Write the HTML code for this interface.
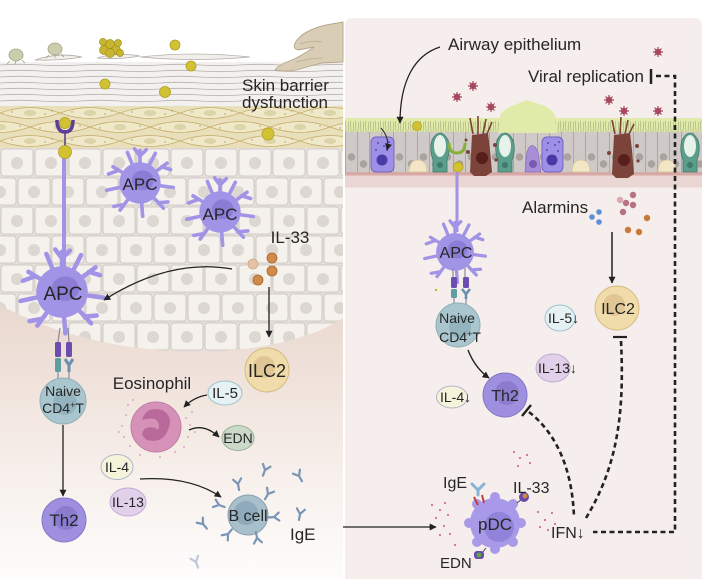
<!DOCTYPE html>
<html><head><meta charset="utf-8"><style>
html,body{margin:0;padding:0;background:#fff;}
svg{display:block;}
text{font-family:"Liberation Sans",Arial,sans-serif;fill:#262626;}
</style></head><body>
<svg width="706" height="579" viewBox="0 0 706 579" xmlns="http://www.w3.org/2000/svg">
<defs>
 <linearGradient id="derm" gradientUnits="userSpaceOnUse" x1="0" y1="290" x2="0" y2="579">
  <stop offset="0" stop-color="#e8d6cc"/>
  <stop offset="0.45" stop-color="#f3e8e2"/>
  <stop offset="1" stop-color="#fefdfc"/>
 </linearGradient>
 <pattern id="cells" x="0" y="148" width="34" height="58" patternUnits="userSpaceOnUse">
  <rect width="34" height="58" fill="#e6e0db"/>
  <rect x="1" y="1" width="32" height="27" rx="3" fill="#f5f1ed" stroke="#c9c2bd" stroke-width="0.8"/>
  <circle cx="17" cy="15" r="6" fill="#ddd7d2"/>
  <rect x="-16" y="30" width="32" height="27" rx="3" fill="#f5f1ed" stroke="#c9c2bd" stroke-width="0.8"/>
  <rect x="18" y="30" width="32" height="27" rx="3" fill="#f5f1ed" stroke="#c9c2bd" stroke-width="0.8"/>
  <circle cx="0" cy="44" r="6" fill="#ddd7d2"/>
  <circle cx="34" cy="44" r="6" fill="#ddd7d2"/>
 </pattern>
 <pattern id="gran" x="0" y="106" width="60" height="28" patternUnits="userSpaceOnUse">
  <rect width="60" height="28" fill="#e9e0bb"/>
  <path d="M0,7 Q30,-4 60,7 Q30,18 0,7Z" fill="#efe8c9" stroke="#c5ac68" stroke-width="0.8"/>
  <path d="M-30,21 Q0,10 30,21 Q0,32 -30,21Z M30,21 Q60,10 90,21 Q60,32 30,21Z" fill="#efe8c9" stroke="#c5ac68" stroke-width="0.8"/>
  <ellipse cx="30" cy="7" rx="6" ry="3" fill="#ddd3a8"/>
  <ellipse cx="0" cy="21" rx="6" ry="3" fill="#ddd3a8"/>
  <ellipse cx="60" cy="21" rx="6" ry="3" fill="#ddd3a8"/>
  <g fill="#a89a60"><circle cx="12" cy="6" r="0.7"/><circle cx="45" cy="8" r="0.7"/><circle cx="20" cy="20" r="0.7"/><circle cx="40" cy="22" r="0.7"/><circle cx="52" cy="5" r="0.7"/></g>
 </pattern>
 <pattern id="corn" x="0" y="62" width="80" height="6" patternUnits="userSpaceOnUse">
  <rect width="80" height="6" fill="#f3f1ef"/>
  <path d="M0,3 Q20,1.6 40,3 T80,3" fill="none" stroke="#b8b1ab" stroke-width="0.8"/>
 </pattern>
 <pattern id="epi" x="345" y="132" width="24" height="40" patternUnits="userSpaceOnUse">
  <rect width="24" height="40" fill="#cfcac7"/>
  <path d="M0.5,0 V40 M12.5,0 V40" stroke="#a9a3a0" stroke-width="0.9"/>
  <circle cx="6.5" cy="25" r="3.8" fill="#a9a29f"/>
  <circle cx="18.5" cy="32" r="3.8" fill="#a9a29f"/>
 </pattern>
 <pattern id="cil" x="345" y="119" width="5" height="13" patternUnits="userSpaceOnUse">
  <path d="M1,13 L0.5,2 M3,13 L3.8,3" stroke="#a3a97c" stroke-width="0.6"/>
 </pattern>
 <marker id="ah" viewBox="0 0 10 10" refX="9" refY="5" markerWidth="7" markerHeight="7" orient="auto" markerUnits="userSpaceOnUse">
  <path d="M0,0 L10,5 L0,10 Z" fill="#222"/>
 </marker>
 <g id="apc">
  <g stroke="#a193e6" stroke-width="4" stroke-linecap="round" fill="none">
   <path d="M0,0 L0,-36 M0,-30 L-6,-38 M0,-30 L7,-37"/>
   <path d="M0,0 L30,-22 M24,-18 L34,-15"/>
   <path d="M0,0 L37,5"/>
   <path d="M0,0 L26,28 M20,22 L31,21"/>
   <path d="M0,0 L3,37"/>
   <path d="M0,0 L-22,30 M-18,24 L-29,26"/>
   <path d="M0,0 L-37,8"/>
   <path d="M0,0 L-30,-18 M-24,-14 L-35,-10"/>
   <path d="M0,0 L-14,-34"/>
   <path d="M0,0 L17,-33"/>
  </g>
  <circle r="23" fill="#a193e6"/>
  <ellipse cx="3" cy="-3" rx="12" ry="11" fill="#8c7cd6"/>
 </g>
 <path id="ab" d="M0,6 L0,0 M0,0 L-4,-5 M0,0 L4,-5" stroke="#7a95b5" stroke-width="2.2" stroke-linecap="round" fill="none"/>
 <g id="vir">
  <path d="M0,-5 V5 M-5,0 H5 M-3.5,-3.5 L3.5,3.5 M-3.5,3.5 L3.5,-3.5" stroke="#a8485f" stroke-width="1.2"/>
  <circle r="3.2" fill="#a8485f"/>
 </g>
</defs>

<!-- ===== LEFT PANEL (skin) ===== -->
<rect x="0" y="140" width="343" height="439" fill="url(#derm)"/>
<path d="M0,148 H343 V318 C280,360 120,370 0,305 Z" fill="url(#cells)"/>
<rect x="0" y="106" width="343" height="42" fill="url(#gran)"/>
<rect x="0" y="62" width="343" height="44" fill="url(#corn)"/>
<g fill="#f1efec" stroke="#b3aca6" stroke-width="0.8">
 <path d="M35,60 Q58,52 82,57 Q58,61 35,60Z"/>
 <path d="M97,58 Q118,52 140,56 Q118,60 97,58Z"/>
 <path d="M140,57 Q195,51 250,57 Q195,62 140,57Z"/>
</g>
<g fill="#cbcdac" stroke="#9fa27e" stroke-width="0.8">
 <ellipse cx="16" cy="55" rx="7" ry="6"/>
 <ellipse cx="55" cy="49" rx="7" ry="6"/>
 <path d="M10,61 L7,64 M16,61 L15,64 M22,60 L25,63 M49,55 L46,58 M55,55 L55,58 M61,54 L64,57" fill="none"/>
</g>
<g fill="#c9b630" stroke="#a2901c" stroke-width="0.7">
 <circle cx="104" cy="50" r="4.5"/><circle cx="110" cy="44" r="4.5"/><circle cx="116" cy="50" r="4.5"/>
 <circle cx="110" cy="53" r="4.5"/><circle cx="103" cy="42" r="3.5"/><circle cx="118" cy="43" r="3.5"/><circle cx="120" cy="53" r="3.5"/>
</g>
<g fill="#d2c232" stroke="#ae9e22" stroke-width="0.8">
 <circle cx="175" cy="45" r="5"/><circle cx="191" cy="66" r="5"/><circle cx="105" cy="84" r="5"/>
 <circle cx="165" cy="92" r="5.5"/><circle cx="268" cy="134" r="6"/>
</g>
<path d="M343,22 L326,25 Q305,30 297,40 Q291,48 298,50 L314,47 Q303,55 292,60 Q278,65 275,70 Q289,73 303,68 L322,63 L343,62 Z" fill="#d9cdb5" stroke="#b5a68a" stroke-width="0.9"/>
<path d="M300,44 Q312,40 322,42 M296,62 Q310,58 323,58" stroke="#bcae92" stroke-width="0.8" fill="none"/>
<text x="242" y="91" font-size="17">Skin barrier</text>
<text x="242" y="108" font-size="17">dysfunction</text>

<line x1="64" y1="150" x2="64" y2="268" stroke="#a193e6" stroke-width="4"/>
<line x1="65" y1="130" x2="65" y2="148" stroke="#4e3a80" stroke-width="1.5"/>
<path d="M57,120 Q57,132 65,132 Q73,132 73,120" fill="none" stroke="#5d3e98" stroke-width="3.5"/>
<circle cx="65" cy="123" r="5.5" fill="#d2c232" stroke="#ae9e22" stroke-width="0.8"/>
<circle cx="65" cy="152" r="6.5" fill="#d2c232" stroke="#ae9e22" stroke-width="0.8"/>

<use href="#apc" transform="translate(140,183) scale(0.9)"/>
<use href="#apc" transform="translate(220,212) scale(0.9)"/>
<use href="#apc" transform="translate(62,292) scale(1.12)"/>
<text x="140" y="190" font-size="17" text-anchor="middle">APC</text>
<text x="220" y="220" font-size="17" text-anchor="middle">APC</text>
<text x="63" y="300" font-size="19" text-anchor="middle">APC</text>

<path d="M60,328 L58,342 M68,328 L69,342 M58,372 L58,380 M69,372 L69,380" stroke="#8a8a9a" stroke-width="1.2"/>
<rect x="55" y="342" width="6" height="15" rx="1.5" fill="#6b4eb0"/>
<rect x="55" y="358" width="6" height="14" rx="1.5" fill="#5e9ea0"/>
<rect x="66" y="342" width="6" height="15" rx="1.5" fill="#6b4eb0"/>
<path d="M65,359 L69,365 L73,359 M69,365 V372" stroke="#6a90b0" stroke-width="3" fill="none"/>

<text x="290" y="243" font-size="17" text-anchor="middle">IL-33</text>
<g fill="#d08a4a" stroke="#a8662c" stroke-width="0.8">
 <circle cx="253" cy="264" r="5" fill="#e6c2a4" stroke="#d0a888"/>
 <circle cx="272" cy="258" r="5"/><circle cx="272" cy="271" r="5"/><circle cx="258" cy="280" r="5"/>
</g>
<path d="M232,269 Q170,258 104,300" fill="none" stroke="#222" stroke-width="1.3" marker-end="url(#ah)"/>
<line x1="269" y1="287" x2="269" y2="337" stroke="#222" stroke-width="1.3" marker-end="url(#ah)"/>

<circle cx="267" cy="370" r="22" fill="#efdcaa" stroke="#d4bb84" stroke-width="1"/>
<circle cx="264" cy="367" r="11" fill="#dcc090" opacity="0.8"/>
<text x="267" y="377" font-size="18" text-anchor="middle">ILC2</text>

<circle cx="63" cy="401" r="23" fill="#a9c5cd" stroke="#8fb0ba"/>
<circle cx="65" cy="403" r="12" fill="#93b4be"/>
<text x="63" y="396" font-size="14" text-anchor="middle">Naive</text>
<text x="63" y="413" font-size="14" text-anchor="middle">CD4<tspan dy="-5" font-size="9">+</tspan><tspan dy="5">T</tspan></text>
<line x1="63" y1="425" x2="63" y2="496" stroke="#222" stroke-width="1.3" marker-end="url(#ah)"/>
<circle cx="64" cy="520" r="22" fill="#9e90de" stroke="#8577c8"/>
<circle cx="66" cy="518" r="12" fill="#8b7cd0"/>
<text x="64" y="526" font-size="17" text-anchor="middle">Th2</text>

<text x="152" y="389" font-size="17" text-anchor="middle">Eosinophil</text>
<g fill="#d494b8">
 <circle cx="126" cy="415" r="0.9"/><circle cx="122" cy="426" r="0.9"/><circle cx="124" cy="437" r="0.9"/><circle cx="130" cy="446" r="0.9"/>
 <circle cx="119" cy="432" r="0.9"/><circle cx="128" cy="405" r="0.9"/><circle cx="186" cy="418" r="0.9"/><circle cx="190" cy="425" r="0.9"/>
 <circle cx="188" cy="437" r="0.9"/><circle cx="184" cy="447" r="0.9"/><circle cx="192" cy="412" r="0.9"/><circle cx="175" cy="452" r="0.9"/>
 <circle cx="140" cy="455" r="0.9"/><circle cx="160" cy="457" r="0.9"/><circle cx="133" cy="400" r="0.9"/><circle cx="195" cy="432" r="0.9"/>
</g>
<circle cx="156" cy="427" r="25" fill="#d591b8" stroke="#c27ba5"/>
<path d="M142,420 Q146,406 162,410 Q174,416 168,430 Q162,444 147,440 Q138,434 146,428 Q155,426 158,430 Q161,423 155,419 Q148,418 142,420Z" fill="#b9699a"/>
<ellipse cx="225" cy="393" rx="17" ry="12" fill="#e6f1f4" stroke="#9cc0cc"/>
<text x="225" y="398" font-size="15" text-anchor="middle">IL-5</text>
<path d="M207,395 Q194,397 184,407" fill="none" stroke="#222" stroke-width="1.3" marker-end="url(#ah)"/>
<path d="M189,430 Q204,423 219,437" fill="none" stroke="#222" stroke-width="1.3" marker-end="url(#ah)"/>
<ellipse cx="238" cy="438" rx="16" ry="12.5" fill="#cbdac8" stroke="#98b098"/>
<text x="238" y="443" font-size="14" text-anchor="middle">EDN</text>

<ellipse cx="117" cy="467" rx="16" ry="12.5" fill="#f5f3da" stroke="#b0b4cc"/>
<text x="117" y="472" font-size="14" text-anchor="middle">IL-4</text>
<ellipse cx="128" cy="502" rx="18" ry="14" fill="#e2d0ea" stroke="#c2aad2"/>
<text x="128" y="507" font-size="14" text-anchor="middle">IL-13</text>
<path d="M140,479 Q190,476 221,497" fill="none" stroke="#222" stroke-width="1.3" marker-end="url(#ah)"/>
<circle cx="248" cy="515" r="20" fill="#a8bfcc" stroke="#86a0b0"/>
<circle cx="246" cy="513" r="12" fill="#8eaabb"/>
<use href="#ab" transform="translate(265,470) rotate(20)"/>
<use href="#ab" transform="translate(299,476) rotate(-30)"/>
<use href="#ab" transform="translate(238,484) rotate(-10)"/>
<use href="#ab" transform="translate(268,494) rotate(30)"/>
<use href="#ab" transform="translate(219,505) rotate(-70)"/>
<use href="#ab" transform="translate(274,517) rotate(85)"/>
<use href="#ab" transform="translate(300,514) rotate(10)"/>
<use href="#ab" transform="translate(203,524) rotate(-40)"/>
<use href="#ab" transform="translate(228,534) rotate(-140)"/>
<use href="#ab" transform="translate(257,538) rotate(170)"/>
<use href="#ab" transform="translate(196,562) rotate(-20)" opacity="0.5"/>
<text x="248" y="521" font-size="16" text-anchor="middle">B cell</text>
<text x="290" y="540" font-size="17">IgE</text>

<!-- ===== RIGHT PANEL ===== -->
<path d="M353,18 H694 Q702,18 702,26 V579 H345 V26 Q345,18 353,18 Z" fill="#f6eeec"/>
<rect x="345" y="118" width="357" height="14" fill="#e1eba9"/>
<rect x="345" y="119" width="357" height="13" fill="url(#cil)"/>
<rect x="345" y="132" width="357" height="40" fill="url(#epi)"/>
<rect x="345" y="172" width="357" height="3.5" fill="#d6a8a6"/>
<rect x="345" y="175.5" width="357" height="12" fill="#ead6d2"/>
<path d="M498,133 L500,116 Q502,110 512,106 L527,100 L545,106 Q553,110 555,116 L557,133 Z" fill="#e1eba9"/>
<rect x="371" y="137" width="23" height="35" rx="5" fill="#9d90e6" stroke="#6f60c0" stroke-width="0.9"/>
<circle cx="382" cy="160" r="5.5" fill="#4a3aa8"/>
<g fill="#5a4ab0"><circle cx="378" cy="143" r="1"/><circle cx="384" cy="146" r="1"/><circle cx="389" cy="142" r="1"/><circle cx="376" cy="150" r="1"/><circle cx="387" cy="150" r="1"/></g>
<path d="M381,128 Q390,138 387,150" fill="none" stroke="#222" stroke-width="1" marker-end="url(#ah)"/>
<rect x="542" y="137" width="21" height="35" rx="5" fill="#9d90e6" stroke="#6f60c0" stroke-width="0.9"/>
<circle cx="552" cy="160" r="5.5" fill="#4a3aa8"/>
<g fill="#5a4ab0"><circle cx="548" cy="143" r="1"/><circle cx="555" cy="145" r="1"/><circle cx="559" cy="142" r="1"/><circle cx="547" cy="150" r="1"/><circle cx="558" cy="151" r="1"/></g>
<path d="M525,172 L527,152 Q532,139 538,152 L541,172Z" fill="#a88ed6" stroke="#8a70c0" stroke-width="0.8"/>
<circle cx="533" cy="164" r="4" fill="#7a5ab0"/>
<g id="gob">
 <path d="M433,172 L433,160 Q429,150 432,140 Q440,126 448,140 Q451,150 447,160 L447,172Z" fill="#5c9e8c" stroke="#3d7a6a" stroke-width="0.8"/>
 <ellipse cx="440" cy="146" rx="6" ry="11" fill="#e6f2ea"/>
 <circle cx="440" cy="165" r="3" fill="#3f7a6a"/>
</g>
<use href="#gob" transform="translate(65,0)"/>
<use href="#gob" transform="translate(250,0)"/>
<g fill="#f2e6c6" stroke="#d6c496" stroke-width="0.8">
 <path d="M409,172 Q409,160 418,160 Q427,160 427,172Z"/>
 <path d="M572,172 Q572,160 581,160 Q590,160 590,172Z"/>
 <path d="M658,172 Q658,160 667,160 Q676,160 676,172Z"/>
</g>
<g fill="#7b4339">
 <path d="M470,172 L472,135 L488,133 L490,150 L492,172 L486,176 L474,176Z"/>
 <path d="M473,134 L470,118 M478,134 L478,116 M483,134 L486,119 M487,134 L492,122" stroke="#7b4339" stroke-width="1.6"/>
 <circle cx="495" cy="145" r="2"/><circle cx="468" cy="152" r="2"/><circle cx="496" cy="160" r="1.6"/><circle cx="466" cy="140" r="1.5"/>
 <path d="M612,174 L614,135 L630,133 L632,150 L634,174 L628,178 L616,178Z"/>
 <path d="M615,134 L612,120 M620,134 L621,117 M625,134 L628,120 M629,134 L634,124" stroke="#7b4339" stroke-width="1.6"/>
 <circle cx="637" cy="146" r="2"/><circle cx="609" cy="153" r="2"/><circle cx="638" cy="161" r="1.6"/>
</g>
<circle cx="482" cy="158" r="6" fill="#561f1c"/>
<circle cx="624" cy="160" r="6" fill="#561f1c"/>
<circle cx="417" cy="126" r="4.5" fill="#d2c232" stroke="#ae9e22" stroke-width="0.7"/>

<use href="#vir" transform="translate(658,52)"/>
<use href="#vir" transform="translate(473,86)"/>
<use href="#vir" transform="translate(457,97)"/>
<use href="#vir" transform="translate(491,107)"/>
<use href="#vir" transform="translate(609,100)"/>
<use href="#vir" transform="translate(624,111)"/>
<use href="#vir" transform="translate(658,111)"/>

<text x="448" y="50" font-size="17">Airway epithelium</text>
<path d="M440,47 C415,55 400,80 400,123" fill="none" stroke="#222" stroke-width="1.3" marker-end="url(#ah)"/>
<text x="528" y="82" font-size="17">Viral replication</text>
<line x1="651" y1="69" x2="651" y2="84" stroke="#222" stroke-width="2.5"/>
<path d="M656,76 H675 V532 H593" fill="none" stroke="#222" stroke-width="2.6" stroke-dasharray="5 3.5"/>

<line x1="457" y1="168" x2="457" y2="232" stroke="#a193e6" stroke-width="3"/>
<path d="M449,143 Q449,153 457,153 Q465,153 465,143" fill="none" stroke="#86b03a" stroke-width="3"/>
<circle cx="458" cy="167" r="5" fill="#d2c232" stroke="#ae9e22" stroke-width="0.7"/>
<use href="#apc" transform="translate(455,252) scale(0.82)"/>
<text x="456" y="258" font-size="16" text-anchor="middle">APC</text>
<path d="M453,268 V277 M465,268 V277 M454,297 V304 M466,297 V304" stroke="#8a8a9a" stroke-width="1.2"/>
<rect x="451" y="277" width="6" height="11" rx="1.5" fill="#6b4eb0"/>
<rect x="451" y="289" width="6" height="9" rx="1.5" fill="#5e9ea0"/>
<rect x="463" y="277" width="6" height="11" rx="1.5" fill="#6b4eb0"/>
<path d="M462,289 L466,294 L470,289 M466,294 V299" stroke="#6a90b0" stroke-width="2.6" fill="none"/>
<circle cx="436" cy="290" r="1.2" fill="#c8b832"/>

<circle cx="458" cy="325" r="22" fill="#a9c5cd" stroke="#8fb0ba"/>
<circle cx="460" cy="327" r="11" fill="#93b4be"/>
<text x="457" y="323" font-size="14" text-anchor="middle">Naive</text>
<text x="460" y="342" font-size="14" text-anchor="middle">CD4<tspan dy="-5" font-size="9">+</tspan><tspan dy="5">T</tspan></text>
<path d="M468,350 Q475,368 489,378" fill="none" stroke="#222" stroke-width="1.4" marker-end="url(#ah)"/>
<circle cx="505" cy="395" r="22" fill="#9e90de" stroke="#8577c8"/>
<circle cx="507" cy="393" r="12" fill="#8b7cd0"/>
<text x="505" y="401" font-size="16" text-anchor="middle">Th2</text>

<ellipse cx="452" cy="397" rx="15.5" ry="11" fill="#f5f3da" stroke="#b0b4cc"/>
<text x="440" y="402" font-size="14">IL-4↓</text>
<ellipse cx="560" cy="318" rx="15" ry="13" fill="#e6f1f4" stroke="#9cc0cc"/>
<text x="548" y="323" font-size="14">IL-5↓</text>
<ellipse cx="553" cy="368" rx="17" ry="14" fill="#e2d0ea" stroke="#c2aad2"/>
<text x="538" y="373" font-size="14">IL-13↓</text>

<text x="522" y="213" font-size="17">Alarmins</text>
<g fill="#5b8fd6"><circle cx="592" cy="217" r="2.8"/><circle cx="599" cy="212" r="2.8"/><circle cx="599" cy="222" r="2.8"/></g>
<g fill="#b67280"><circle cx="620" cy="200" r="3.2" fill="#d9a9b2"/><circle cx="626" cy="203" r="3.2"/><circle cx="633" cy="195" r="3.2"/><circle cx="633" cy="205" r="3.2"/><circle cx="623" cy="212" r="3.2"/></g>
<g fill="#c87a3a"><circle cx="647" cy="218" r="3.2"/><circle cx="628" cy="230" r="3.2"/><circle cx="639" cy="232" r="3.2"/></g>
<line x1="612" y1="232" x2="612" y2="283" stroke="#222" stroke-width="1.5" marker-end="url(#ah)"/>
<circle cx="617" cy="308" r="22" fill="#efdcaa" stroke="#d4bb84"/>
<circle cx="614" cy="305" r="11" fill="#dcc090" opacity="0.8"/>
<text x="618" y="314" font-size="16" text-anchor="middle">ILC2</text>
<line x1="613" y1="337" x2="627" y2="337" stroke="#222" stroke-width="2.2"/>
<path d="M621,341 C625,420 615,470 586,518" fill="none" stroke="#222" stroke-width="2.6" stroke-dasharray="5 3.5"/>
<line x1="522" y1="416" x2="531" y2="405" stroke="#222" stroke-width="2.4"/>
<path d="M529,412 C552,430 572,462 574,517" fill="none" stroke="#222" stroke-width="2.6" stroke-dasharray="5 3.5"/>
<text x="551" y="538" font-size="16">IFN↓</text>

<g fill="#d4708c">
 <circle cx="432" cy="505" r="1.1"/><circle cx="440" cy="510" r="1.1"/><circle cx="445" cy="503" r="1.1"/><circle cx="436" cy="518" r="1.1"/>
 <circle cx="444" cy="526" r="1.1"/><circle cx="450" cy="534" r="1.1"/><circle cx="440" cy="535" r="1.1"/><circle cx="455" cy="545" r="1.1"/>
 <circle cx="448" cy="515" r="1.1"/><circle cx="430" cy="527" r="1.1"/><circle cx="538" cy="512" r="1.1"/><circle cx="545" cy="520" r="1.1"/>
 <circle cx="552" cy="513" r="1.1"/><circle cx="540" cy="527" r="1.1"/><circle cx="548" cy="530" r="1.1"/><circle cx="555" cy="524" r="1.1"/>
 <circle cx="514" cy="452" r="1.1"/><circle cx="520" cy="458" r="1.1"/><circle cx="527" cy="455" r="1.1"/><circle cx="518" cy="466" r="1.1"/><circle cx="530" cy="463" r="1.1"/>
</g>
<g fill="#a89ae8">
 <circle cx="495" cy="523" r="25"/>
 <circle cx="495" cy="497" r="5"/><circle cx="513" cy="504" r="5"/><circle cx="521" cy="523" r="5"/><circle cx="513" cy="542" r="5"/>
 <circle cx="495" cy="549" r="5"/><circle cx="477" cy="542" r="5"/><circle cx="469" cy="523" r="5"/><circle cx="477" cy="504" r="5"/>
</g>
<circle cx="499" cy="527" r="15" fill="#9182da"/>
<text x="495" y="530" font-size="17" text-anchor="middle">pDC</text>
<path d="M474,497 L478,505 M482,495 L484,503" stroke="#c04040" stroke-width="2"/>
<path d="M478,495 L478,490 M478,490 L472,484 M478,490 L484,484" stroke="#86b4d4" stroke-width="3" stroke-linecap="round" fill="none"/>
<line x1="517" y1="503" x2="522" y2="499" stroke="#444" stroke-width="1"/>
<circle cx="524" cy="497" r="5" fill="#6a4aa8"/>
<circle cx="525" cy="496" r="2.4" fill="#d08a40"/>
<line x1="486" y1="548" x2="482" y2="553" stroke="#444" stroke-width="1"/>
<rect x="474" y="551" width="10" height="8" rx="3" fill="#6a4aa8"/>
<circle cx="479" cy="555" r="2.4" fill="#58b040"/>
<text x="443" y="488" font-size="16">IgE</text>
<text x="513" y="493" font-size="16">IL-33</text>
<text x="440" y="568" font-size="15">EDN</text>

<line x1="343" y1="527" x2="436" y2="527" stroke="#222" stroke-width="1.3" marker-end="url(#ah)"/>
</svg>
</body></html>
